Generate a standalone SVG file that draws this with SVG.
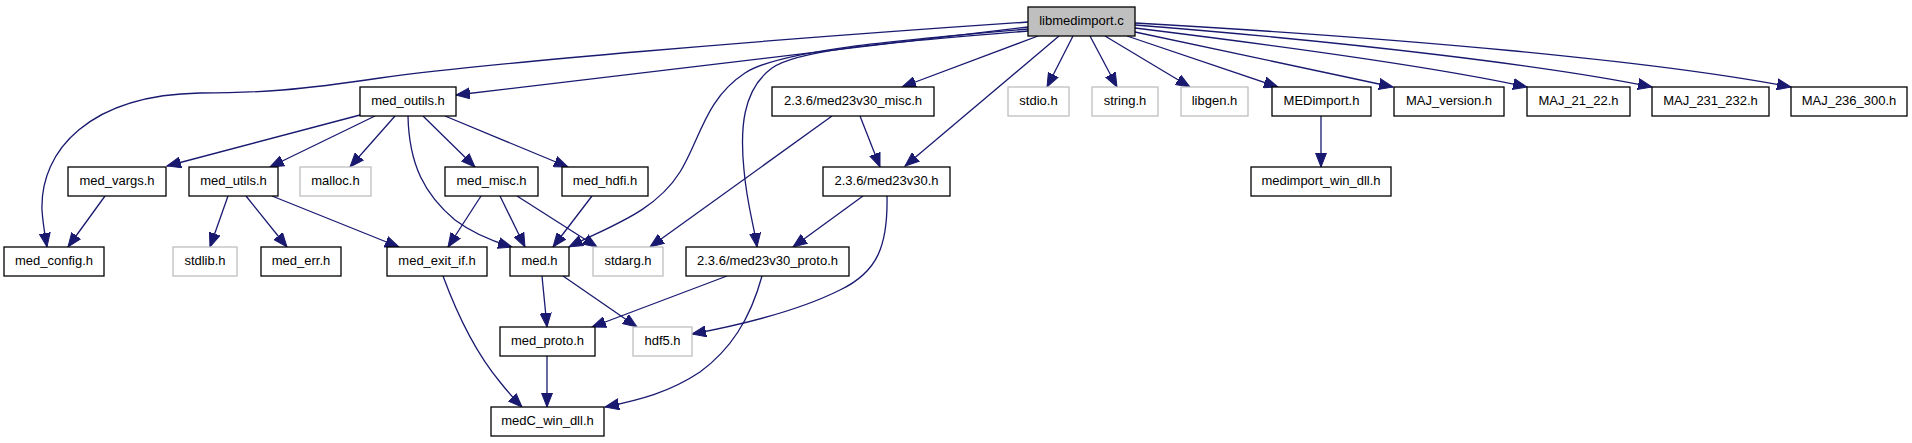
<svg xmlns="http://www.w3.org/2000/svg" width="1912" height="443" viewBox="0 0 1912 443">
<style>
.n rect{fill:#fff;stroke:#000;stroke-width:1.3}
.g rect{fill:#fff;stroke:#bfbfbf;stroke-width:1.3}
.r rect{fill:#bfbfbf;stroke:#000;stroke-width:1.3}
text{font-family:"Liberation Sans",Arial,sans-serif;font-size:13px;text-anchor:middle;fill:#000}
#edges path{fill:none;stroke:#191970;stroke-width:1.3;marker-end:url(#a)}
</style>
<defs>
<marker id="a" markerUnits="userSpaceOnUse" markerWidth="15" markerHeight="12" refX="14" refY="6" orient="auto">
<path d="M0,0.5 L14,6 L0,11.5 Z" fill="#191970" stroke="#191970" stroke-width="1"/>
</marker>
</defs>
<rect width="1912" height="443" fill="#fff"/>
<g id="edges">
<path d="M1028,22 C760,40 480,64 380,78 C300,90 260,93 200,93 C90,95 40,150 42,210 C43,225 45,235 47,247"/>
<path d="M1028,27 L456,95"/>
<path d="M1028,29 C900,40 780,50 745,73 C705,99 700,140 680,172 C655,212 610,226 569,247"/>
<path d="M1028,31 C900,42 800,48 772,68 C742,90 740,130 744,170 C747,205 754,225 757,247"/>
<path d="M1038,36 L902,87"/>
<path d="M1059,36 L905,166"/>
<path d="M1073,36 L1047,87"/>
<path d="M1090,36 L1117,87"/>
<path d="M1105,36 L1190,87"/>
<path d="M1127,36 L1278,87"/>
<path d="M1135,32 L1393,87"/>
<path d="M1135,28 C1330,52 1450,70 1527,87"/>
<path d="M1135,25 C1350,42 1550,66 1652,87"/>
<path d="M1135,23 C1400,38 1650,60 1791,87"/>
<path d="M360,115 L167,166"/>
<path d="M375,116 L270,167"/>
<path d="M395,116 L350,167"/>
<path d="M408,116 C409,165 425,195 455,220 C475,235 495,242 512,247"/>
<path d="M423,116 L475,167"/>
<path d="M445,116 L568,167"/>
<path d="M105,196 L68,247"/>
<path d="M228,196 L210,247"/>
<path d="M246,196 L287,247"/>
<path d="M272,196 L399,247"/>
<path d="M481,196 L448,247"/>
<path d="M500,196 L525,247"/>
<path d="M517,196 L597,247"/>
<path d="M592,196 L553,247"/>
<path d="M832,116 L650,247"/>
<path d="M860,116 L880,167"/>
<path d="M863,196 L793,247"/>
<path d="M887,196 C888,245 878,272 840,290 C800,310 740,325 692,334"/>
<path d="M542,276 L547,327"/>
<path d="M563,276 L637,327"/>
<path d="M727,276 L592,327"/>
<path d="M762,276 C750,320 730,350 700,372 C670,392 640,400 605,407"/>
<path d="M443,276 C460,322 480,358 500,382 C508,392 515,400 522,407"/>
<path d="M547,356 L547,407"/>
<path d="M1321,116 L1321,167"/>
</g>
<g id="libmedimport_c" class="r"><rect x="1028" y="7" width="107" height="29"/><text x="1081.5" y="25">libmedimport.c</text></g>
<g id="med_outils_h" class="n"><rect x="360" y="87" width="96" height="29"/><text x="408" y="105">med_outils.h</text></g>
<g id="med23v30_misc_h" class="n"><rect x="772" y="87" width="162" height="29"/><text x="853" y="105">2.3.6/med23v30_misc.h</text></g>
<g id="stdio_h" class="g"><rect x="1008" y="87" width="61" height="29"/><text x="1038.5" y="105">stdio.h</text></g>
<g id="string_h" class="g"><rect x="1092" y="87" width="66" height="29"/><text x="1125" y="105">string.h</text></g>
<g id="libgen_h" class="g"><rect x="1181" y="87" width="67" height="29"/><text x="1214.5" y="105">libgen.h</text></g>
<g id="MEDimport_h" class="n"><rect x="1272" y="87" width="99" height="29"/><text x="1321.5" y="105">MEDimport.h</text></g>
<g id="MAJ_version_h" class="n"><rect x="1394" y="87" width="110" height="29"/><text x="1449" y="105">MAJ_version.h</text></g>
<g id="MAJ_21_22_h" class="n"><rect x="1527" y="87" width="103" height="29"/><text x="1578.5" y="105">MAJ_21_22.h</text></g>
<g id="MAJ_231_232_h" class="n"><rect x="1652" y="87" width="117" height="29"/><text x="1710.5" y="105">MAJ_231_232.h</text></g>
<g id="MAJ_236_300_h" class="n"><rect x="1791" y="87" width="116" height="29"/><text x="1849" y="105">MAJ_236_300.h</text></g>
<g id="med_vargs_h" class="n"><rect x="68" y="167" width="98" height="29"/><text x="117" y="185">med_vargs.h</text></g>
<g id="med_utils_h" class="n"><rect x="189" y="167" width="89" height="29"/><text x="233.5" y="185">med_utils.h</text></g>
<g id="malloc_h" class="g"><rect x="300" y="167" width="71" height="29"/><text x="335.5" y="185">malloc.h</text></g>
<g id="med_misc_h" class="n"><rect x="445" y="167" width="93" height="29"/><text x="491.5" y="185">med_misc.h</text></g>
<g id="med_hdfi_h" class="n"><rect x="562" y="167" width="86" height="29"/><text x="605" y="185">med_hdfi.h</text></g>
<g id="med23v30_h" class="n"><rect x="823" y="167" width="127" height="29"/><text x="886.5" y="185">2.3.6/med23v30.h</text></g>
<g id="medimport_win_dll_h" class="n"><rect x="1251" y="167" width="140" height="29"/><text x="1321" y="185">medimport_win_dll.h</text></g>
<g id="med_config_h" class="n"><rect x="4" y="247" width="100" height="29"/><text x="54" y="265">med_config.h</text></g>
<g id="stdlib_h" class="g"><rect x="173" y="247" width="64" height="29"/><text x="205" y="265">stdlib.h</text></g>
<g id="med_err_h" class="n"><rect x="261" y="247" width="80" height="29"/><text x="301" y="265">med_err.h</text></g>
<g id="med_exit_if_h" class="n"><rect x="387" y="247" width="100" height="29"/><text x="437" y="265">med_exit_if.h</text></g>
<g id="med_h" class="n"><rect x="510" y="247" width="59" height="29"/><text x="539.5" y="265">med.h</text></g>
<g id="stdarg_h" class="g"><rect x="593" y="247" width="70" height="29"/><text x="628" y="265">stdarg.h</text></g>
<g id="med23v30_proto_h" class="n"><rect x="686" y="247" width="163" height="29"/><text x="767.5" y="265">2.3.6/med23v30_proto.h</text></g>
<g id="med_proto_h" class="n"><rect x="500" y="327" width="95" height="29"/><text x="547.5" y="345">med_proto.h</text></g>
<g id="hdf5_h" class="g"><rect x="633" y="327" width="59" height="29"/><text x="662.5" y="345">hdf5.h</text></g>
<g id="medC_win_dll_h" class="n"><rect x="491" y="407" width="113" height="29"/><text x="547.5" y="425">medC_win_dll.h</text></g>
</svg>
